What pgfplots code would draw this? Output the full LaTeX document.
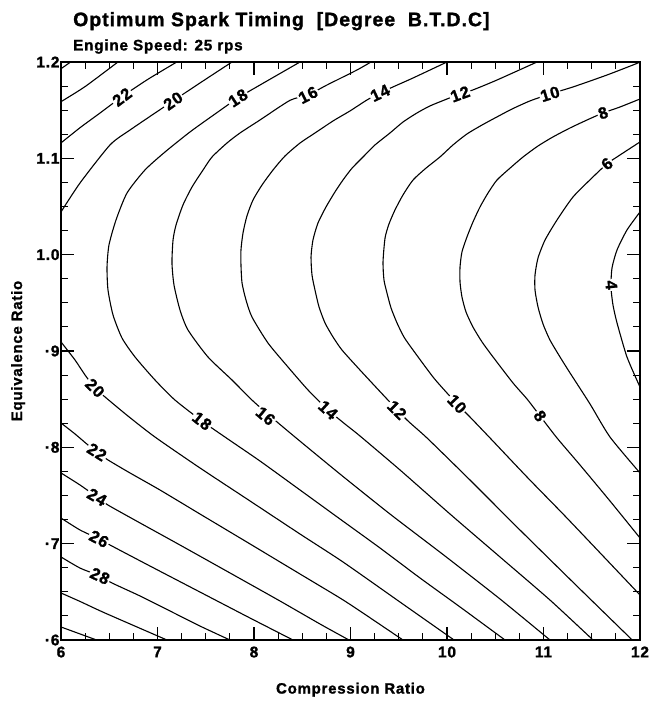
\documentclass[border=0pt]{standalone}
\usepackage{fontspec}
\setmainfont{Liberation Sans}[LetterSpace=5, BoldFeatures={FakeBold=1.3}]
\usepackage{pgfplots}
\pgfplotsset{compat=1.18}
\pgfplotsset{cont/.style={black, solid, line width=1.1pt, mark=none, smooth, tension=0.4}}
\begin{document}
\begin{tikzpicture}[x=1pt,y=1pt]
\useasboundingbox (0,0) rectangle (651,702);
\begin{axis}[
  at={(61pt,62pt)}, anchor=south west,
  width=579pt, height=578pt, scale only axis,
  xmin=6, xmax=12, ymin=0.6, ymax=1.2,
  xtick={6,7,8,9,10,11,12}, xticklabels={6,7,8,9,10,11,12},
  ytick={0.6,0.7,0.8,0.9,1.0,1.1,1.2}, yticklabels={·6,·7,·8,·9,1.0,1.1,1.2},
  minor x tick num=3, minor y tick num=3,
  tick align=inside, major tick length=13pt, minor tick length=7pt,
  xtick pos=both, ytick pos=both,
  axis line style={line width=1.3pt}, every tick/.style={line width=1.1pt, black},
  tick label style={font=\bfseries\fontsize{15.5}{15.5}\selectfont},
  xticklabel style={yshift=-3pt},
  yticklabel style={xshift=2pt},
  xlabel={Compression Ratio}, ylabel={Equivalence Ratio},
  every axis x label/.style={at={(axis description cs:0.5,-0.086)}, anchor=center, font=\bfseries\fontsize{15}{15}\selectfont},
  every axis y label/.style={at={(axis description cs:-0.074,0.5)}, anchor=center, rotate=90, font=\bfseries\fontsize{15}{15}\selectfont},
  clip mode=individual,
]
% upper-left small contours
\addplot[cont] coordinates {(6,1.193) (6.1,1.2)};
\addplot[cont] coordinates {(6,1.1588) (6.25,1.1745) (6.59,1.2)};
\addplot[cont] coordinates {(6,1.116) (6.2,1.132) (6.404,1.147) (6.632,1.164) (6.9,1.182) (7.2,1.2)};
% 20 upper
\addplot[cont] coordinates {(6,1.0443) (6.197,1.0744) (6.508,1.1139) (6.715,1.1294) (7.161,1.1596) (7.44,1.1782) (7.772,1.2)};
% 20 lower
\addplot[cont] coordinates {(6,0.9094) (6.145,0.8907) (6.249,0.8751) (6.352,0.8616) (6.456,0.8523) (6.694,0.8325) (6.974,0.8107) (7.44,0.7786) (7.959,0.7443) (8.477,0.71) (8.922,0.681) (9.513,0.6394) (10.073,0.6)};
% 18
\addplot[cont] coordinates {(8.477,1.2) (8.062,1.1761) (7.834,1.1627) (7.596,1.146) (7.337,1.1274) (7.078,1.1066) (6.870,1.0879) (6.684,1.064) (6.570,1.036) (6.497,1.01) (6.477,0.9872) (6.487,0.9633) (6.539,0.9374) (6.632,0.9135) (6.767,0.8938) (6.974,0.8699) (7.181,0.8491) (7.461,0.8273) (7.699,0.8107) (8.062,0.7858) (8.477,0.7557) (8.891,0.7256) (9.306,0.6955) (9.720,0.6644) (10.135,0.6343) (10.601,0.6)};
% 16
\addplot[cont] coordinates {(9.212,1.2) (9.067,1.1917) (8.756,1.1761) (8.560,1.1658) (8.373,1.1602) (8.062,1.1398) (7.855,1.1263) (7.720,1.1159) (7.565,1.1014) (7.472,1.0879) (7.358,1.0703) (7.264,1.0516) (7.192,1.0308) (7.161,1.0152) (7.150,0.9914) (7.171,0.9685) (7.233,0.9426) (7.316,0.9218) (7.523,0.8938) (7.772,0.8699) (7.979,0.8491) (8.166,0.8325) (8.425,0.8107) (8.891,0.7723) (9.409,0.7308) (9.979,0.6872) (10.549,0.6426) (11.067,0.6)};
% 14
\addplot[cont] coordinates {(10.0,1.2) (9.648,1.1834) (9.440,1.1741) (9.306,1.1678) (9.171,1.1606) (8.995,1.1492) (8.819,1.1388) (8.632,1.1263) (8.477,1.1159) (8.321,1.1024) (8.197,1.0879) (8.083,1.0723) (7.990,1.0568) (7.927,1.0402) (7.886,1.0225) (7.865,1.0049) (7.865,0.9893) (7.876,0.9706) (7.917,0.953) (7.979,0.9353) (8.145,0.9083) (8.352,0.8834) (8.560,0.8595) (8.767,0.8388) (8.943,0.8242) (9.098,0.8118) (9.513,0.7765) (10.031,0.7308) (10.549,0.6862) (11.067,0.6415) (11.513,0.6)};
% 12
\addplot[cont] coordinates {(10.933,1.2) (10.518,1.1813) (10.269,1.171) (10.135,1.1668) (10.0,1.1616) (9.824,1.1544) (9.689,1.1471) (9.544,1.1377) (9.409,1.1263) (9.254,1.1139) (9.130,1.1014) (9.016,1.0898) (8.922,1.0775) (8.839,1.0651) (8.746,1.0495) (8.663,1.0329) (8.611,1.0152) (8.591,0.9976) (8.601,0.9789) (8.632,0.9633) (8.674,0.9457) (8.736,0.9291) (8.819,0.9145) (8.912,0.901) (9.098,0.8803) (9.358,0.8523) (9.585,0.8284) (9.793,0.8097) (10.238,0.7661) (10.756,0.7142) (11.378,0.6529) (11.94,0.598)};
% 10
\addplot[cont] coordinates {(12.05,1.203) (11.979,1.199) (11.658,1.1865) (11.306,1.1741) (11.067,1.1668) (10.860,1.1596) (10.674,1.1512) (10.518,1.143) (10.363,1.1346) (10.207,1.1253) (10.062,1.1139) (9.927,1.1014) (9.782,1.0898) (9.648,1.0775) (9.544,1.062) (9.461,1.0464) (9.399,1.0319) (9.358,1.0173) (9.337,0.9924) (9.347,0.9737) (9.378,0.9602) (9.420,0.9447) (9.482,0.9291) (9.554,0.9145) (9.648,0.901) (9.855,0.873) (10.0,0.8564) (10.104,0.845) (10.238,0.8315) (10.446,0.8097) (10.829,0.7692) (11.223,0.7287) (11.617,0.6872) (12,0.6467)};
% 8
\addplot[cont] coordinates {(12,1.1616) (11.793,1.1533) (11.617,1.1471) (11.451,1.1398) (11.275,1.1315) (11.098,1.1222) (10.943,1.1128) (10.788,1.1014) (10.653,1.0898) (10.518,1.0775) (10.425,1.064) (10.342,1.0495) (10.269,1.0339) (10.207,1.0184) (10.155,1.0028) (10.135,0.9872) (10.135,0.9716) (10.155,0.9561) (10.197,0.9405) (10.269,0.9249) (10.363,0.9094) (10.477,0.8938) (10.684,0.8668) (10.829,0.8502) (10.964,0.8326) (11.140,0.8097) (11.378,0.7817) (11.689,0.7443) (12,0.7059)};
% 6
\addplot[cont] coordinates {(12,1.117) (11.793,1.1035) (11.658,1.0943) (11.513,1.0807) (11.306,1.0599) (11.140,1.036) (11.016,1.0152) (10.943,0.9965) (10.912,0.9789) (10.912,0.9633) (10.943,0.9457) (10.995,0.928) (11.067,0.9114) (11.171,0.8938) (11.275,0.8772) (11.482,0.845) (11.689,0.8107) (12,0.7734)};
% 4
\addplot[cont] coordinates {(12,1.0443) (11.865,1.0256) (11.762,1.0049) (11.71,0.9862) (11.699,0.9665) (11.72,0.9478) (11.762,0.9291) (11.865,0.8938) (12,0.8626)};
% lower-left
\addplot[cont] coordinates {(6,0.8253) (6.145,0.8139) (6.28,0.8024) (6.373,0.7952) (6.487,0.7869) (6.715,0.7734) (7.026,0.7557) (7.44,0.7308) (7.959,0.6997) (8.477,0.6685) (8.891,0.6436) (9.098,0.6301) (9.544,0.6)};
\addplot[cont] coordinates {(6,0.7734) (6.197,0.7609) (6.373,0.7484) (6.487,0.7401) (6.819,0.7215) (7.233,0.6986) (7.751,0.6696) (8.269,0.6405) (8.684,0.6166) (8.984,0.6)};
\addplot[cont] coordinates {(6,0.7266) (6.197,0.7142) (6.394,0.7049) (6.508,0.6986) (6.922,0.6768) (7.44,0.6498) (7.959,0.6228) (8.404,0.6)};
\addplot[cont] coordinates {(6,0.6862) (6.197,0.6747) (6.404,0.6664) (6.528,0.6592) (6.819,0.6457) (7.13,0.6301) (7.44,0.6145) (7.751,0.6)};
\addplot[cont] coordinates {(6,0.6488) (6.2,0.6399) (6.456,0.628) (7.098,0.6)};
\addplot[cont] coordinates {(6,0.6135) (6.369,0.6)};
% labels
\tikzset{cl/.style={fill=white, inner sep=1.2pt, font=\bfseries\fontsize{16.5}{16.5}\selectfont}}
\node[cl, rotate=37] at (axis cs:6.632,1.1637) {22};
\node[cl, rotate=35] at (axis cs:7.161,1.1596) {20};
\node[cl, rotate=33] at (axis cs:7.834,1.1627) {18};
\node[cl, rotate=27] at (axis cs:8.56,1.1658) {16};
\node[cl, rotate=25] at (axis cs:9.306,1.1678) {14};
\node[cl, rotate=20] at (axis cs:10.135,1.1668) {12};
\node[cl, rotate=17] at (axis cs:11.067,1.1668) {10};
\node[cl, rotate=20] at (axis cs:11.617,1.1471) {8};
\node[cl, rotate=40] at (axis cs:11.658,1.0943) {6};
\node[cl, rotate=-85] at (axis cs:11.703,0.9685) {4};
\node[cl, rotate=-45] at (axis cs:6.352,0.8616) {20};
\node[cl, rotate=-38] at (axis cs:7.461,0.8273) {18};
\node[cl, rotate=-40] at (axis cs:8.12,0.8325) {16};
\node[cl, rotate=-42] at (axis cs:8.767,0.8388) {14};
\node[cl, rotate=-45] at (axis cs:9.482,0.8388) {12};
\node[cl, rotate=-47] at (axis cs:10.104,0.845) {10};
\node[cl, rotate=-55] at (axis cs:10.964,0.8326) {8};
\node[cl, rotate=-32] at (axis cs:6.373,0.7952) {22};
\node[cl, rotate=-30] at (axis cs:6.373,0.7484) {24};
\node[cl, rotate=-28] at (axis cs:6.394,0.7049) {26};
\node[cl, rotate=-25] at (axis cs:6.404,0.6664) {28};
% titles
\node[anchor=base west, inner sep=0pt, font=\bfseries\fontsize{19.5}{19.5}\selectfont] at (axis description cs:0.0207,1.062) {Optimum Spark Timing\ \ [Degree\ \ B.T.D.C]};
\node[anchor=base west, inner sep=0pt, font=\bfseries\fontsize{15.3}{15.3}\selectfont] at (axis description cs:0.0207,1.02) {Engine Speed: 25 rps};
\end{axis}
\end{tikzpicture}
\end{document}
